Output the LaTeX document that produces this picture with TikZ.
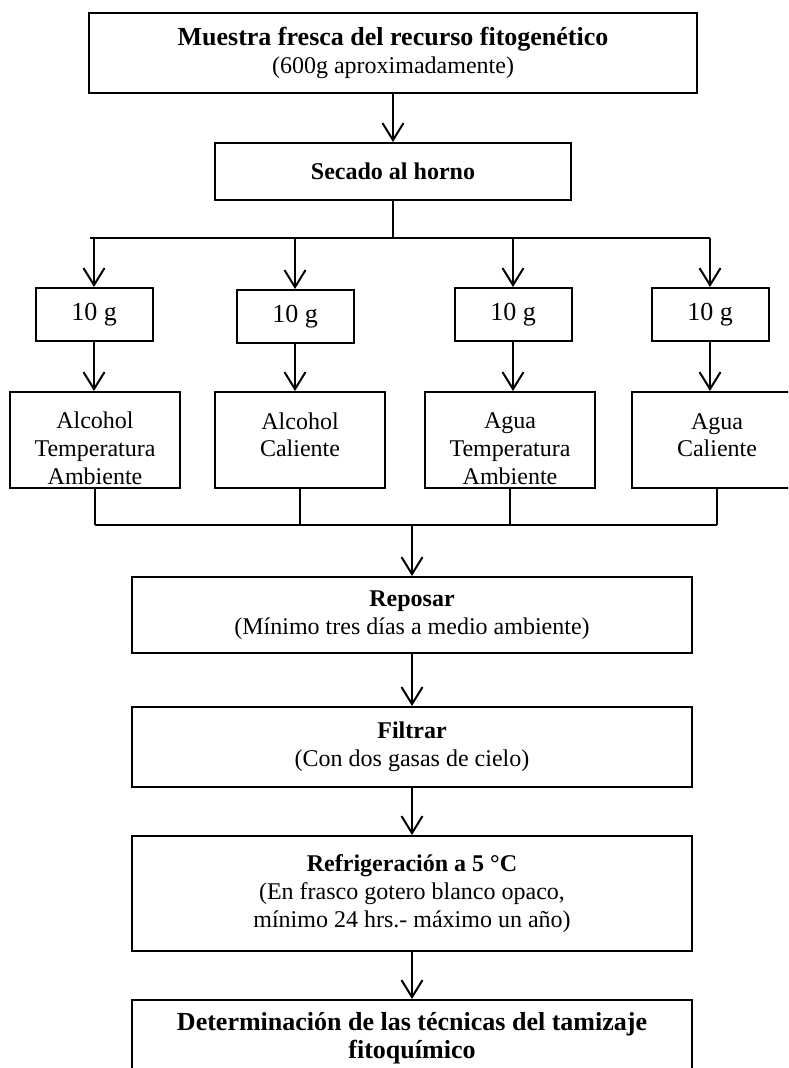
\documentclass[tikz,border=0pt]{standalone}
\usepackage{fontspec}
\setmainfont{Liberation Serif}
\usetikzlibrary{positioning,arrows.meta}

\newcommand{\largetxt}{\fontsize{13}{14}\selectfont}
\newcommand{\topgap}{\rule{0pt}{17pt}}

\tikzset{
    txt/.style={font=\fontsize{12}{14}\selectfont},
    box/.style={draw, line width=1pt, align=center, inner sep=0pt, txt},
    gbox/.style={box, font=\largetxt, minimum width=58.5pt, minimum height=26.5pt},
    sbox/.style={box, minimum width=85pt, minimum height=48pt},
    wide/.style={box, minimum width=280pt},
    flow/.style={line width=1pt, -{Straight Barb[length=8.5pt,width=10.5pt,line width=1pt]}},
    link/.style={line width=0.6pt}
}

\begin{document}
\begin{tikzpicture}[x=0.5pt, y=-0.5pt]
    \useasboundingbox (0,0) rectangle (788,1068);
    \clip (0,0) rectangle (788,1068);

    % Sample and drying
    \node[box, minimum width=304pt, minimum height=40pt] (muestra) at (393,53)
        {{\largetxt\bfseries Muestra fresca del recurso fitogenético}\\(600g aproximadamente)};
    \node[box, minimum width=178pt, minimum height=28.5pt] (secado) at (393,171.5)
        {\textbf{Secado al horno}};
    \draw[flow] (muestra) -- (secado);

    % Four portions of 10 g
    \node[gbox] (g1) at (94,314.5) {10 g};
    \node[gbox] (g2) at (295,316.5) {10 g};
    \node[gbox] (g3) at (513,314.5) {10 g};
    \node[gbox] (g4) at (710,314.5) {10 g};

    % Solvents
    \node[sbox] (s1) at (95,440) {\topgap Alcohol\\Temperatura\\Ambiente};
    \node[sbox] (s2) at (300,440) {\topgap Alcohol\\Caliente\\\phantom{A}};
    \node[sbox] (s3) at (510,440) {\topgap Agua\\Temperatura\\Ambiente};
    \node[sbox] (s4) at (717,440) {\topgap Agua\\Caliente\\\phantom{A}};

    % Split after drying
    \coordinate (split) at (393,238);
    \draw[link] (secado) -- (split);
    \draw[link] (90,238) -- (g4 |- split);
    \foreach \n in {g1,g2,g3,g4}
        \draw[flow] (\n |- split) -- (\n);
    \draw[flow] (g1) -- (g1 |- s1.north);
    \draw[flow] (g2) -- (g2 |- s2.north);
    \draw[flow] (g3) -- (g3 |- s3.north);
    \draw[flow] (g4) -- (g4 |- s4.north);

    % Merge into the main chain
    \coordinate (merge) at (412,525);
    \foreach \n in {s1,s2,s3,s4}
        \draw[link] (\n) -- (\n |- merge);
    \draw[link] (s1 |- merge) -- (s4 |- merge);

    \node[wide, minimum height=38pt] (reposar) at (412,615)
        {\textbf{Reposar}\\(Mínimo tres días a medio ambiente)};
    \node[wide, minimum height=40pt] (filtrar) at (412,747)
        {\textbf{Filtrar}\\(Con dos gasas de cielo)};
    \node[wide, minimum height=57.5pt] (refrig) at (412,893.5)
        {\textbf{Refrigeración a 5 °C}\\(En frasco gotero blanco opaco,\\mínimo 24 hrs.- máximo un año)};
    \node[wide, font={\largetxt\bfseries}, minimum height=38pt] (tamizaje) at (412,1038)
        {Determinación de las técnicas del tamizaje\\fitoquímico};

    \draw[flow] (merge) -- (reposar);
    \draw[flow] (reposar) -- (filtrar);
    \draw[flow] (filtrar) -- (refrig);
    \draw[flow] (refrig) -- (tamizaje);
\end{tikzpicture}
\end{document}
